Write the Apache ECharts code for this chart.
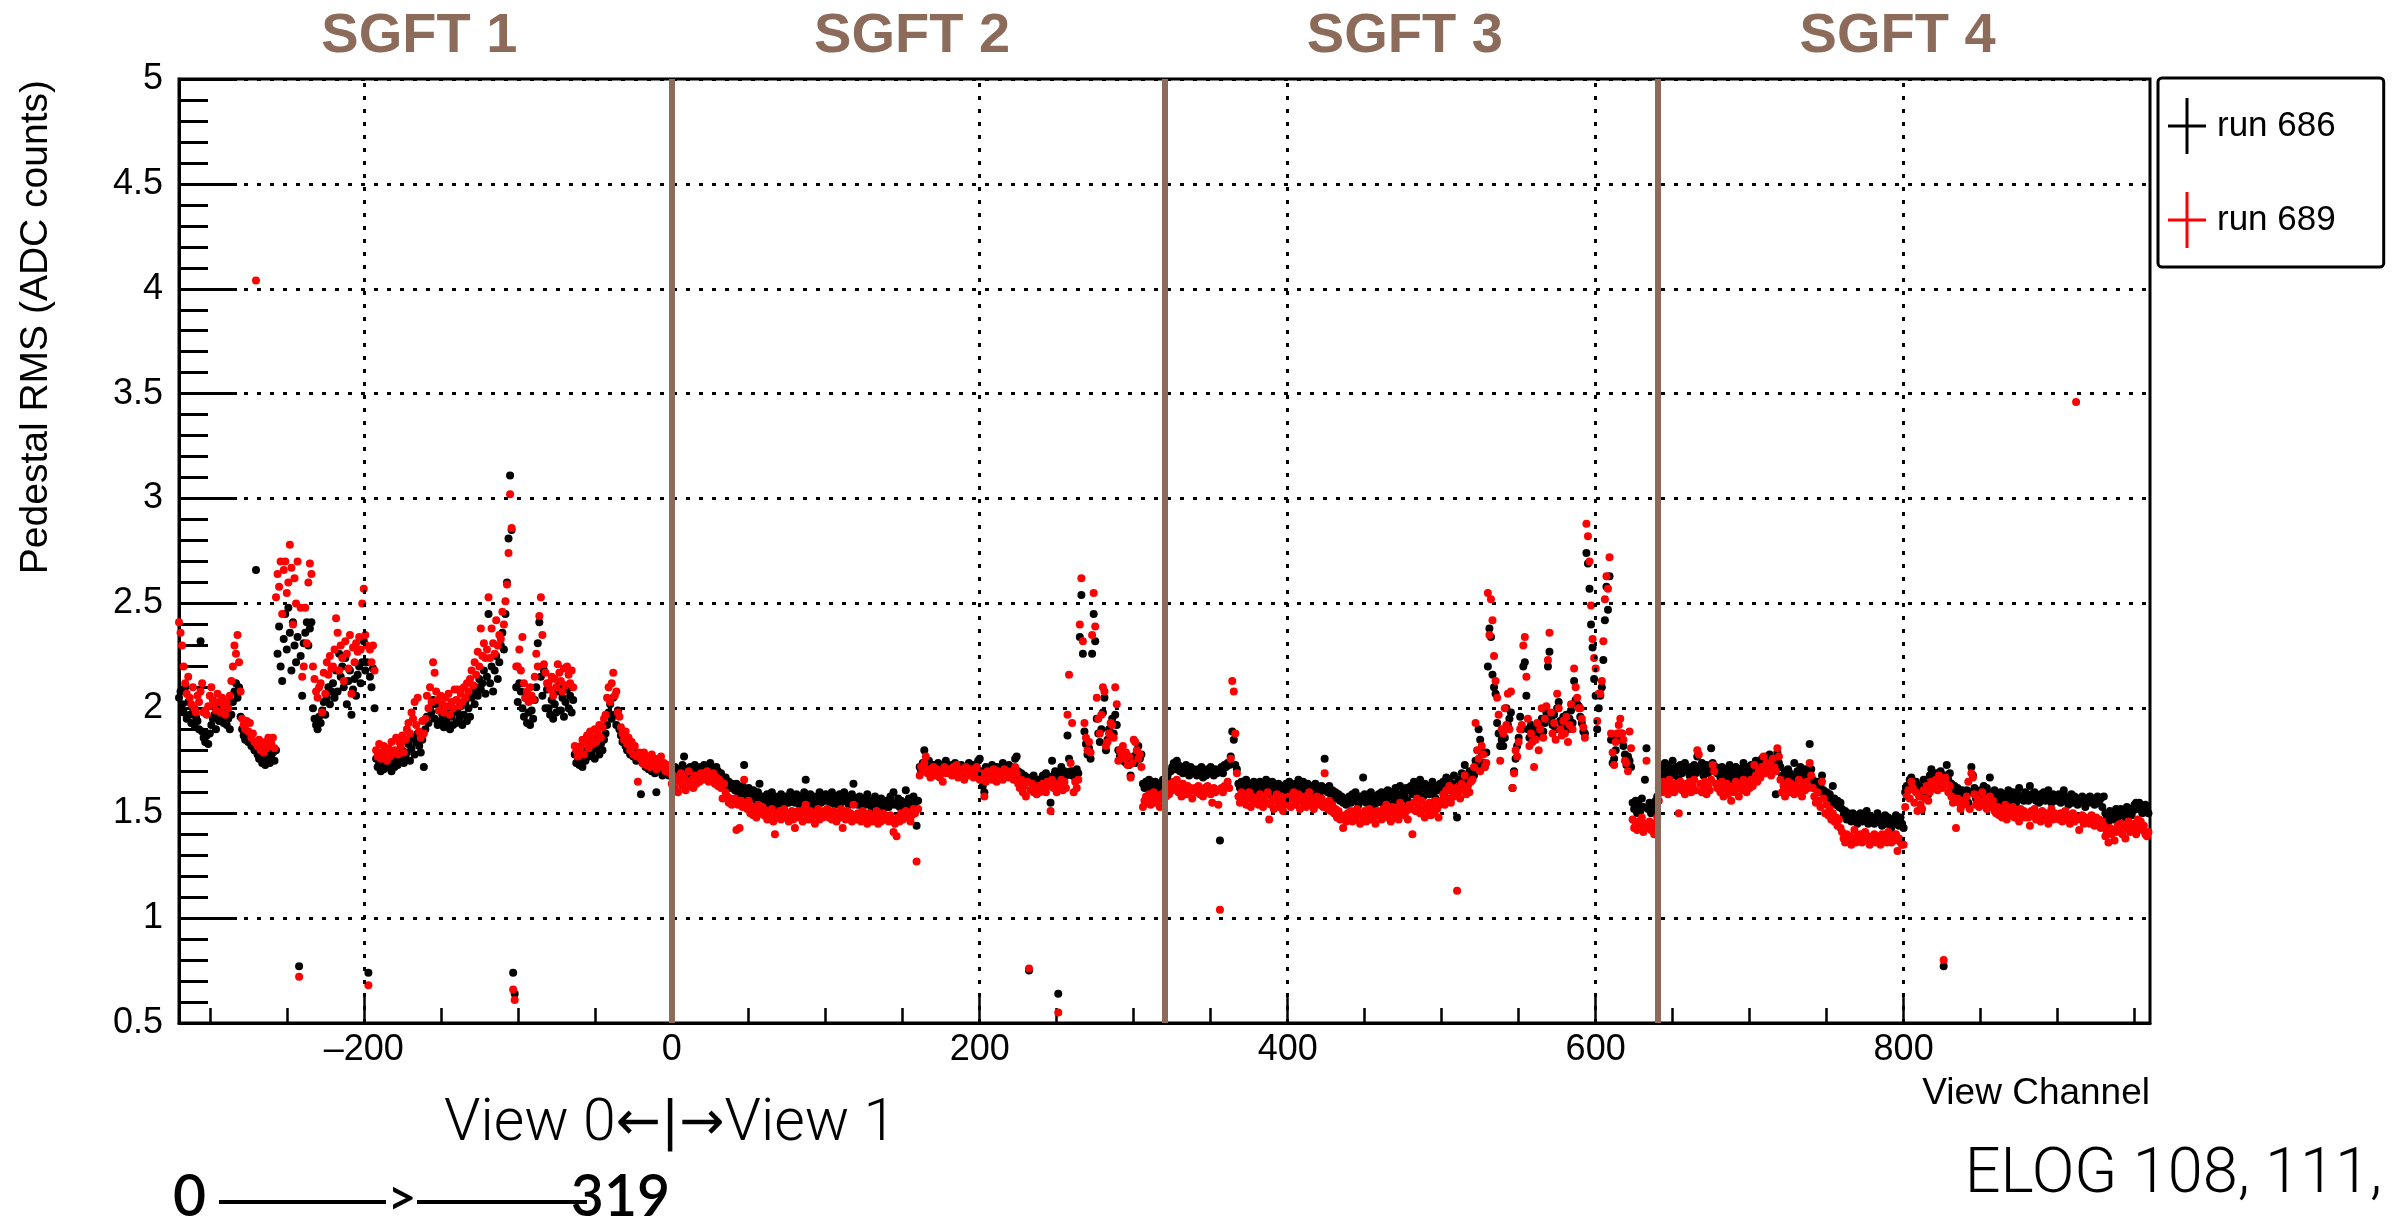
<!DOCTYPE html>
<html>
<head>
<meta charset="utf-8">
<script src="https://cdn.jsdelivr.net/npm/echarts@6/dist/echarts.min.js"></script>
<style>
html,body{margin:0;padding:0;background:#fff;}
#chart{width:2399px;height:1219px;}
</style>
</head>
<body>
<div id="chart"></div>
<script>
// ---------------- DATA ----------------
// First view channel of each SGFT block (each block holds 320 consecutive channels)
const segmentStarts = [-320, 0, 320, 640];

// run 686 (black), pedestal RMS per channel
const run686Sgft1 = [
2.05,2.08,2.02,1.98,2.10,1.95,2.03,1.97,1.93,2.00,1.92,1.96,1.94,1.90,2.32,1.89,1.86,1.84,1.87,1.83,
1.88,1.92,1.95,1.97,1.90,1.98,1.94,2.01,1.96,1.93,1.99,1.92,1.95,1.90,1.97,2.03,2.08,2.12,2.05,2.10,
1.96,1.90,1.87,1.85,1.88,1.84,1.86,1.82,1.83,1.80,2.66,1.78,1.76,1.79,1.74,1.77,1.73,1.75,1.78,1.74,
1.76,1.79,1.75,1.80,2.26,2.39,2.20,2.13,2.33,2.45,2.28,2.48,2.36,2.18,2.41,2.30,2.22,2.34,0.77,2.25,
2.06,2.31,2.36,2.41,2.30,2.38,2.41,2.00,1.95,1.92,1.90,1.96,1.93,1.99,2.03,1.97,2.05,2.10,2.02,2.08,
2.12,2.05,2.18,2.08,2.26,2.15,2.20,2.10,2.24,2.02,2.13,2.18,1.97,2.09,2.14,2.06,2.16,2.20,2.12,2.22,
2.32,2.18,2.22,0.74,2.15,2.10,2.19,2.00,1.76,1.72,1.74,1.70,1.75,1.71,1.73,1.77,1.72,1.74,1.70,1.76,
1.72,1.75,1.73,1.78,1.76,1.80,1.74,1.77,1.79,1.83,1.75,1.81,1.86,1.78,1.84,1.88,1.82,1.79,1.85,1.72,
1.90,1.96,1.93,2.00,1.98,2.04,1.95,2.02,1.92,1.99,1.94,1.97,1.91,1.95,1.93,1.98,1.90,1.96,1.92,1.99,
1.93,1.98,1.95,2.01,1.92,1.97,2.03,1.94,2.00,1.96,2.05,2.08,2.02,2.10,2.06,2.14,2.09,2.12,2.18,2.07,
2.15,2.45,2.12,2.20,2.08,2.18,2.25,2.14,2.22,2.30,2.36,2.28,2.45,2.60,2.81,3.11,2.85,0.74,0.64,2.10,
2.03,2.12,2.08,2.00,1.96,2.05,1.93,1.98,1.92,1.99,1.95,2.04,2.10,2.31,2.41,2.15,2.06,2.18,2.00,2.09,
2.00,1.97,2.04,1.95,2.02,1.98,2.08,2.11,1.99,2.05,1.96,2.03,2.09,2.00,2.06,1.98,2.04,1.78,1.74,1.75,
1.73,1.76,1.72,1.78,1.75,1.80,1.77,1.82,1.79,1.84,1.76,1.81,1.86,1.78,1.83,1.80,1.85,1.88,1.92,1.98,
2.02,1.95,2.05,1.97,1.92,1.99,1.90,1.87,1.84,1.86,1.82,1.80,1.83,1.78,1.81,1.77,1.79,1.75,1.78,1.76,
1.59,1.74,1.77,1.72,1.75,1.71,1.74,1.70,1.73,1.69,1.60,1.72,1.70,1.73,1.68,1.71,1.69,1.72,1.68,1.70
];
const run686Sgft2 = [
1.70,1.67,1.72,1.69,1.71,1.66,1.70,1.73,1.77,1.68,1.71,1.69,1.72,1.67,1.70,1.73,1.68,1.71,1.69,1.72,
1.71,1.73,1.69,1.72,1.70,1.74,1.68,1.71,1.69,1.72,1.70,1.67,1.69,1.66,1.65,1.67,1.63,1.65,1.62,1.64,
1.63,1.61,1.64,1.60,1.62,1.59,1.63,1.73,1.61,1.58,1.62,1.60,1.57,1.61,1.59,1.56,1.60,1.64,1.58,1.57,
1.58,1.55,1.59,1.57,1.54,1.60,1.56,1.58,1.53,1.57,1.55,1.59,1.56,1.54,1.58,1.57,1.55,1.60,1.56,1.58,
1.55,1.59,1.57,1.54,1.58,1.56,1.60,1.66,1.57,1.55,1.59,1.54,1.58,1.56,1.53,1.57,1.60,1.55,1.58,1.56,
1.59,1.56,1.58,1.55,1.60,1.57,1.54,1.58,1.56,1.59,1.55,1.57,1.60,1.56,1.58,1.54,1.57,1.59,1.64,1.56,
1.57,1.54,1.58,1.56,1.53,1.57,1.55,1.59,1.54,1.56,1.52,1.55,1.58,1.53,1.56,1.54,1.57,1.52,1.55,1.53,
1.56,1.53,1.58,1.55,1.60,1.54,1.47,1.57,1.53,1.56,1.52,1.55,1.61,1.54,1.57,1.53,1.56,1.58,1.55,1.44,
1.56,1.72,1.70,1.74,1.80,1.73,1.71,1.75,1.72,1.70,1.73,1.69,1.72,1.74,1.71,1.73,1.70,1.72,1.75,1.71,
1.72,1.70,1.73,1.71,1.74,1.69,1.72,1.70,1.73,1.71,1.68,1.72,1.70,1.74,1.69,1.71,1.73,1.70,1.72,1.75,
1.76,1.70,1.63,1.60,1.72,1.69,1.71,1.68,1.73,1.70,1.67,1.72,1.69,1.71,1.68,1.74,1.70,1.72,1.69,1.73,
1.72,1.68,1.71,1.76,1.77,1.70,1.67,1.69,1.66,1.68,1.65,1.67,0.75,1.66,1.64,1.68,1.65,1.63,1.66,1.64,
1.65,1.68,1.66,1.69,1.64,1.67,1.55,1.75,1.68,1.70,1.67,0.64,1.69,1.72,1.66,1.70,1.68,1.87,1.76,1.70,
1.68,1.70,1.67,1.71,1.69,2.34,2.54,2.26,1.89,1.83,1.78,1.81,1.76,2.26,2.45,2.32,1.95,1.88,1.84,1.90,
1.98,2.05,1.80,1.85,1.90,1.87,1.95,1.88,1.97,1.92,1.80,1.77,1.79,1.75,1.78,1.74,1.76,1.73,1.68,1.75,
1.77,1.74,1.79,1.82,1.76,1.78,1.64,1.62,1.65,1.63,1.66,1.61,1.64,1.62,1.65,1.63,1.60,1.64,1.62,1.66
];
const run686Sgft3 = [
1.66,1.63,1.68,1.65,1.70,1.72,1.74,1.71,1.75,1.73,1.70,1.72,1.69,1.71,1.73,1.70,1.68,1.72,1.69,1.71,
1.70,1.68,1.71,1.69,1.72,1.67,1.70,1.68,1.71,1.69,1.72,1.70,1.68,1.71,1.69,1.70,1.37,1.72,1.69,1.73,
1.72,1.74,1.73,1.77,1.89,1.85,1.73,1.71,1.64,1.62,1.65,1.61,1.63,1.66,1.62,1.64,1.60,1.63,1.65,1.61,
1.63,1.60,1.65,1.62,1.64,1.61,1.66,1.63,1.59,1.62,1.65,1.61,1.63,1.60,1.64,1.62,1.59,1.63,1.61,1.64,
1.62,1.65,1.61,1.63,1.60,1.64,1.62,1.66,1.61,1.63,1.65,1.60,1.62,1.64,1.61,1.63,1.59,1.62,1.64,1.61,
1.62,1.60,1.63,1.61,1.76,1.62,1.60,1.63,1.59,1.61,1.58,1.60,1.57,1.59,1.56,1.58,1.55,1.57,1.54,1.56,
1.58,1.55,1.59,1.56,1.60,1.57,1.54,1.58,1.56,1.67,1.59,1.55,1.58,1.56,1.60,1.57,1.54,1.58,1.55,1.59,
1.57,1.60,1.55,1.59,1.56,1.61,1.58,1.54,1.60,1.57,1.62,1.56,1.59,1.63,1.57,1.60,1.58,1.62,1.56,1.61,
1.63,1.59,1.65,1.61,1.64,1.60,1.66,1.62,1.58,1.64,1.61,1.63,1.59,1.62,1.65,1.60,1.57,1.63,1.61,1.64,
1.62,1.65,1.60,1.67,1.63,1.66,1.61,1.64,1.68,1.62,1.48,1.66,1.63,1.69,1.65,1.73,1.67,1.64,1.70,1.68,
1.70,1.68,1.75,1.72,1.90,1.85,1.79,1.74,1.72,1.79,2.20,2.38,2.34,2.16,2.10,2.07,1.93,1.88,1.82,1.85,
1.82,1.86,2.00,1.92,1.95,1.98,1.62,1.70,1.76,1.82,1.86,1.96,1.90,2.20,2.22,2.06,1.90,1.86,1.92,1.89,
1.86,1.90,1.88,1.92,1.87,1.95,1.89,1.93,1.98,2.20,2.27,1.95,1.92,1.97,1.90,2.00,2.03,1.94,1.91,1.96,
1.92,1.97,1.90,1.95,1.99,1.93,2.13,2.04,2.02,2.01,1.96,1.93,1.89,1.88,2.74,2.69,2.57,2.40,2.29,2.14,
2.06,1.90,2.00,2.06,2.10,2.23,2.42,2.58,2.47,2.63,1.85,1.74,1.76,1.80,1.86,1.88,1.85,1.88,1.82,1.78,
1.73,1.77,1.75,1.72,1.55,1.52,1.56,1.50,1.54,1.51,1.57,1.53,1.66,1.81,1.52,1.55,1.50,1.54,1.51,1.56
];
const run686Sgft4 = [
1.58,1.62,1.70,1.72,1.68,1.74,1.70,1.73,1.69,1.71,1.75,1.68,1.72,1.70,1.66,1.73,1.69,1.71,1.74,1.70,
1.71,1.68,1.72,1.70,1.73,1.69,1.77,1.72,1.70,1.74,1.68,1.71,1.73,1.69,1.72,1.81,1.74,1.70,1.72,1.69,
1.70,1.67,1.72,1.69,1.66,1.71,1.68,1.73,1.65,1.70,1.67,1.72,1.69,1.66,1.71,1.68,1.74,1.70,1.67,1.72,
1.70,1.73,1.68,1.72,1.75,1.70,1.74,1.72,1.76,1.71,1.73,1.77,1.74,1.78,1.72,1.75,1.76,1.59,1.79,1.74,
1.72,1.68,1.66,1.70,1.67,1.71,1.69,1.65,1.68,1.74,1.66,1.70,1.67,1.72,1.69,1.65,1.71,1.68,1.70,1.83,
1.71,1.66,1.64,1.62,1.65,1.60,1.63,1.68,1.61,1.58,1.60,1.57,1.59,1.55,1.63,1.57,1.54,1.56,1.53,1.55,
1.52,1.49,1.51,1.47,1.50,1.48,1.46,1.50,1.47,1.49,1.45,1.48,1.50,1.46,1.49,1.47,1.51,1.45,1.48,1.46,
1.48,1.45,1.47,1.50,1.46,1.48,1.44,1.47,1.49,1.45,1.48,1.46,1.43,1.47,1.45,1.49,1.46,1.44,1.48,1.45,
1.43,1.60,1.63,1.61,1.66,1.67,1.64,1.62,1.65,1.60,1.63,1.58,1.62,1.66,1.61,1.64,1.59,1.68,1.71,1.65,
1.66,1.69,1.64,1.67,1.70,1.65,0.77,1.68,1.73,1.66,1.69,1.64,1.61,1.63,1.58,1.62,1.60,1.57,1.61,1.59,
1.58,1.61,1.55,1.60,1.72,1.68,1.62,1.57,1.60,1.56,1.61,1.58,1.63,1.59,1.62,1.57,1.67,1.60,1.58,1.61,
1.57,1.59,1.56,1.60,1.58,1.55,1.59,1.57,1.61,1.56,1.58,1.60,1.57,1.55,1.59,1.62,1.57,1.58,1.56,1.60,
1.58,1.56,1.63,1.59,1.57,1.60,1.56,1.58,1.55,1.59,1.57,1.60,1.56,1.58,1.61,1.57,1.55,1.59,1.57,1.56,
1.57,1.59,1.55,1.58,1.61,1.56,1.58,1.54,1.57,1.59,1.55,1.58,1.56,1.54,1.57,1.55,1.58,1.56,1.53,1.57,
1.56,1.58,1.55,1.57,1.54,1.56,1.58,1.55,1.57,1.53,1.58,1.50,1.48,1.46,1.51,1.49,1.47,1.50,1.52,1.48,
1.50,1.52,1.49,1.51,1.48,1.53,1.50,1.52,1.49,1.51,1.54,1.55,1.52,1.55,1.53,1.50,1.52,1.54,1.51,1.50
];

// run 689 (red), pedestal RMS per channel
const run689Sgft1 = [
2.41,2.36,2.30,2.20,2.12,2.07,2.15,2.05,2.02,2.10,2.00,1.98,2.06,2.03,2.08,2.12,1.98,1.99,1.97,2.01,
2.06,2.10,2.04,2.02,1.99,2.07,2.03,1.98,2.05,2.01,1.97,2.03,2.00,2.06,2.13,2.20,2.30,2.26,2.35,2.22,
2.08,1.95,1.92,1.90,1.94,1.89,1.93,1.86,1.88,1.84,4.04,1.82,1.85,1.80,1.83,1.79,1.84,1.81,1.86,1.82,
1.83,1.86,1.81,2.53,2.64,2.58,2.70,2.45,2.66,2.70,2.55,2.60,2.78,2.67,2.40,2.62,2.50,2.70,0.72,2.48,
2.15,2.20,2.48,2.31,2.60,2.69,2.64,2.20,2.14,2.08,2.05,2.10,2.12,1.98,2.17,2.07,2.22,2.16,2.25,2.19,
2.20,2.28,2.43,2.36,2.18,2.30,2.24,2.13,2.32,2.26,2.19,2.35,2.07,2.29,2.22,2.31,2.27,2.34,2.28,2.50,
2.57,2.35,2.30,0.68,2.28,2.22,2.30,2.18,1.80,1.77,1.83,1.76,1.79,1.82,1.78,1.75,1.81,1.77,1.84,1.79,
1.80,1.86,1.78,1.84,1.82,1.87,1.79,1.85,1.90,1.93,1.88,1.98,1.95,2.03,1.92,2.05,1.89,1.86,1.94,1.88,
1.95,2.06,2.00,2.10,2.03,2.22,2.17,2.08,2.04,1.99,2.06,2.02,1.98,2.05,2.01,2.07,1.97,2.03,2.00,2.09,
2.04,2.09,2.01,2.07,2.03,2.10,2.05,2.12,2.08,2.14,2.18,2.11,2.22,2.16,2.27,2.20,2.38,2.25,2.31,2.24,
2.28,2.53,2.24,2.38,2.31,2.26,2.42,2.30,2.35,2.33,2.46,2.40,2.51,2.59,2.74,3.02,2.86,0.66,0.61,2.20,
2.20,2.28,2.18,2.34,2.12,2.05,2.08,2.03,2.10,2.06,2.04,2.15,2.26,2.20,2.44,2.53,2.35,2.21,2.17,2.12,
2.12,2.09,2.15,2.06,2.14,2.10,2.21,2.17,2.13,2.08,2.19,2.11,2.20,2.16,2.12,2.18,2.10,1.82,1.80,1.77,
1.79,1.82,1.85,1.78,1.84,1.87,1.81,1.89,1.86,1.83,1.90,1.84,1.88,1.92,1.86,1.91,1.95,1.97,2.05,2.10,
2.03,2.12,2.17,2.06,2.08,1.98,1.96,1.91,1.88,1.85,1.89,1.83,1.86,1.80,1.84,1.78,1.82,1.77,1.65,1.79,
1.76,1.74,1.79,1.73,1.77,1.75,1.72,1.78,1.74,1.76,1.71,1.75,1.73,1.77,1.72,1.74,1.70,1.73,1.71,1.69
];
const run689Sgft2 = [
1.64,1.68,1.62,1.66,1.60,1.65,1.69,1.63,1.67,1.61,1.65,1.70,1.63,1.66,1.62,1.68,1.64,1.67,1.65,1.69,
1.66,1.69,1.67,1.70,1.65,1.68,1.66,1.69,1.64,1.67,1.63,1.66,1.62,1.57,1.64,1.60,1.58,1.55,1.57,1.54,
1.55,1.57,1.42,1.54,1.43,1.56,1.53,1.66,1.55,1.52,1.56,1.50,1.53,1.49,1.52,1.48,1.54,1.51,1.50,1.53,
1.49,1.51,1.47,1.50,1.48,1.52,1.46,1.40,1.50,1.48,1.51,1.47,1.49,1.52,1.48,1.50,1.46,1.49,1.51,1.47,
1.43,1.49,1.51,1.48,1.50,1.46,1.52,1.54,1.49,1.47,1.51,1.48,1.50,1.45,1.49,1.52,1.47,1.50,1.48,1.51,
1.49,1.52,1.48,1.50,1.47,1.51,1.49,1.46,1.50,1.48,1.52,1.43,1.49,1.47,1.51,1.48,1.50,1.46,1.54,1.49,
1.47,1.50,1.48,1.46,1.51,1.49,1.47,1.45,1.50,1.48,1.46,1.49,1.47,1.51,1.45,1.48,1.46,1.50,1.47,1.49,
1.48,1.46,1.49,1.47,1.41,1.45,1.39,1.48,1.46,1.50,1.47,1.49,1.51,1.48,1.50,1.46,1.49,1.52,1.50,1.27,
1.52,1.68,1.72,1.70,1.74,1.77,1.69,1.71,1.67,1.70,1.72,1.68,1.71,1.69,1.67,1.70,1.65,1.72,1.69,1.71,
1.69,1.71,1.68,1.72,1.70,1.73,1.67,1.70,1.69,1.71,1.66,1.72,1.70,1.68,1.71,1.69,1.67,1.70,1.72,1.68,
1.66,1.69,1.68,1.58,1.65,1.70,1.67,1.69,1.66,1.71,1.68,1.65,1.70,1.67,1.69,1.66,1.71,1.68,1.70,1.67,
1.68,1.70,1.66,1.72,1.69,1.64,1.62,1.66,1.60,1.63,1.58,1.65,0.76,1.61,1.64,1.60,1.62,1.59,1.63,1.60,
1.61,1.64,1.62,1.60,1.65,1.63,1.51,1.66,1.62,1.64,1.60,0.55,1.63,1.66,1.61,1.65,1.62,1.97,2.16,1.74,
1.93,1.60,1.65,1.62,1.66,2.40,2.62,2.32,1.93,1.86,1.80,1.84,1.79,2.35,2.55,2.39,2.05,1.95,1.88,1.97,
2.10,2.08,1.82,1.84,1.88,1.93,1.92,1.86,2.10,2.02,1.75,1.80,1.78,1.82,1.76,1.79,1.73,1.77,1.67,1.74,
1.85,1.84,1.80,1.76,1.78,1.72,1.53,1.56,1.58,1.55,1.59,1.54,1.57,1.60,1.55,1.58,1.56,1.53,1.59,1.57
];
const run689Sgft3 = [
1.60,1.58,1.62,1.59,1.64,1.61,1.65,1.63,1.66,1.60,1.62,1.58,1.64,1.61,1.59,1.63,1.60,1.62,1.57,1.61,
1.62,1.60,1.63,1.59,1.61,1.58,1.62,1.60,1.63,1.61,1.59,1.55,1.62,1.60,1.61,1.54,1.04,1.62,1.60,1.63,
1.63,1.65,1.62,1.76,2.13,2.08,1.88,1.69,1.58,1.55,1.60,1.56,1.59,1.54,1.57,1.60,1.53,1.58,1.55,1.56,
1.57,1.54,1.59,1.56,1.53,1.58,1.55,1.60,1.47,1.54,1.57,1.52,1.56,1.59,1.53,1.55,1.58,1.51,1.54,1.57,
1.55,1.58,1.53,1.57,1.60,1.54,1.56,1.59,1.52,1.57,1.55,1.58,1.53,1.56,1.60,1.54,1.57,1.52,1.55,1.58,
1.56,1.54,1.57,1.53,1.69,1.55,1.52,1.56,1.51,1.54,1.50,1.52,1.48,1.51,1.47,1.49,1.43,1.48,1.46,1.50,
1.48,1.51,1.46,1.50,1.47,1.52,1.49,1.45,1.50,1.48,1.51,1.46,1.49,1.52,1.47,1.50,1.48,1.45,1.51,1.49,
1.50,1.47,1.52,1.49,1.54,1.48,1.51,1.46,1.53,1.50,1.48,1.52,1.47,1.55,1.50,1.53,1.49,1.51,1.47,1.54,
1.52,1.40,1.55,1.51,1.57,1.53,1.50,1.56,1.52,1.48,1.54,1.51,1.55,1.49,1.53,1.50,1.56,1.52,1.48,1.54,
1.56,1.59,1.54,1.61,1.57,1.63,1.55,1.60,1.58,1.62,1.13,1.60,1.57,1.64,1.61,1.68,1.59,1.63,1.60,1.65,
1.66,1.72,1.93,1.80,1.76,1.70,1.82,1.78,1.72,1.74,2.55,2.35,2.52,2.42,2.25,2.13,2.05,1.97,1.75,1.90,
1.88,2.00,1.92,2.07,1.90,2.08,1.62,1.69,1.80,1.77,1.84,1.90,1.92,2.30,2.34,2.15,1.95,1.82,1.88,1.84,
1.72,1.85,1.93,1.80,1.90,2.00,1.86,1.95,2.01,2.23,2.36,1.98,1.88,1.93,1.85,2.07,2.00,1.90,1.87,1.94,
1.88,1.96,1.84,1.92,2.02,1.90,2.19,2.10,2.05,2.00,2.00,1.95,1.91,1.86,2.88,2.82,2.70,2.49,2.33,2.24,
2.19,1.94,2.07,2.07,2.13,2.32,2.52,2.63,2.57,2.72,1.88,1.79,1.73,1.84,1.88,1.92,1.95,1.88,1.85,1.75,
1.74,1.70,1.89,1.81,1.47,1.43,1.45,1.42,1.46,1.44,1.48,1.41,1.45,1.75,1.43,1.46,1.42,1.45,1.40,1.44
];
const run689Sgft4 = [
1.48,1.56,1.63,1.60,1.65,1.62,1.64,1.59,1.66,1.61,1.63,1.60,1.64,1.62,1.50,1.65,1.61,1.63,1.59,1.64,
1.62,1.65,1.60,1.63,1.66,1.61,1.80,1.78,1.64,1.60,1.62,1.65,1.59,1.63,1.61,1.66,1.73,1.70,1.64,1.62,
1.63,1.60,1.65,1.58,1.62,1.64,1.59,1.61,1.56,1.63,1.60,1.65,1.62,1.58,1.64,1.61,1.66,1.63,1.60,1.65,
1.62,1.66,1.63,1.73,1.68,1.65,1.70,1.67,1.72,1.77,1.69,1.74,1.71,1.73,1.68,1.76,1.72,1.70,1.81,1.77,
1.66,1.60,1.63,1.58,1.62,1.65,1.60,1.64,1.61,1.59,1.63,1.60,1.66,1.62,1.58,1.64,1.61,1.65,1.62,1.74,
1.68,1.62,1.58,1.55,1.60,1.56,1.53,1.65,1.57,1.50,1.54,1.49,1.52,1.47,1.50,1.46,1.48,1.44,1.47,1.43,
1.41,1.38,1.36,1.40,1.37,1.39,1.35,1.38,1.42,1.36,1.39,1.37,1.40,1.36,1.38,1.41,1.37,1.39,1.35,1.38,
1.37,1.40,1.36,1.39,1.38,1.35,1.40,1.37,1.39,1.36,1.41,1.38,1.36,1.39,1.37,1.40,1.32,1.38,1.36,1.35,
1.35,1.53,1.58,1.61,1.57,1.65,1.62,1.55,1.60,1.51,1.58,1.54,1.52,1.61,1.57,1.63,1.56,1.60,1.65,1.62,
1.63,1.66,1.61,1.68,1.65,1.62,0.80,1.67,1.64,1.60,1.63,1.58,1.55,1.56,1.43,1.57,1.55,1.52,1.56,1.54,
1.55,1.58,1.65,1.52,1.69,1.67,1.59,1.54,1.57,1.53,1.56,1.60,1.54,1.57,1.52,1.55,1.58,1.53,1.56,1.51,
1.50,1.53,1.49,1.52,1.48,1.51,1.54,1.47,1.50,1.52,1.49,1.53,1.48,1.51,1.50,1.46,1.52,1.49,1.51,1.48,
1.50,1.48,1.44,1.51,1.49,1.52,1.47,1.50,1.48,1.46,1.51,1.49,1.47,1.50,1.45,1.49,1.52,1.47,1.50,1.48,
1.49,1.47,1.50,1.46,1.48,1.51,1.47,1.49,1.45,1.48,1.50,1.46,3.46,1.48,1.42,1.47,1.49,1.45,1.48,1.46,
1.47,1.45,1.49,1.46,1.44,1.48,1.45,1.47,1.43,1.46,1.44,1.39,1.41,1.36,1.43,1.40,1.42,1.37,1.41,1.44,
1.42,1.45,1.40,1.44,1.38,1.43,1.46,1.41,1.44,1.42,1.45,1.40,1.47,1.43,1.46,1.42,1.44,1.40,1.39,1.41
];

const seriesNames = ['run 686', 'run 689'];
const xLabelValues = [-200, 0, 200, 400, 600, 800];
const xMinorTickValues = [-300, -250, -150, -100, -50, 50, 100, 150, 250, 300, 350, 450, 500, 550, 650, 700, 750, 850, 900, 950];
const xGridValues = [-200, 0, 200, 400, 600, 800];
const boundaryChannels = [0, 320, 640];
const sgftNames = ['SGFT 1', 'SGFT 2', 'SGFT 3', 'SGFT 4'];
const sgftCenters = [-160, 160, 480, 800];

// ---------------- CHART ----------------
function toPoints(segments) {
  const pts = [];
  segments.forEach(function (arr, s) {
    arr.forEach(function (v, i) { pts.push([segmentStarts[s] + i, v]); });
  });
  return pts;
}

const BROWN = '#8d6b5a';
const FONT = '"Liberation Sans", Arial, Helvetica, sans-serif';
const LIGHT = 'Roboto, "Liberation Sans", sans-serif';

const chart = echarts.init(document.getElementById('chart'), null, { renderer: 'canvas', width: 2399, height: 1219 });

const option = {
  animation: false,
  backgroundColor: '#ffffff',
  textStyle: { fontFamily: FONT },
  grid: {
    left: 179, top: 79, right: 249, bottom: 196,
    show: true, borderColor: '#000', borderWidth: 3, backgroundColor: 'transparent',
    containLabel: false, outerBoundsMode: 'none'
  },
  xAxis: [
    {
      type: 'value', min: -320, max: 960, position: 'bottom',
      axisLine: { show: true, onZero: false, lineStyle: { color: '#000', width: 3 } },
      axisTick: { show: true, inside: true, length: 15, customValues: xMinorTickValues, lineStyle: { color: '#000', width: 2.5 } },
      axisLabel: {
        show: true, customValues: xLabelValues, fontSize: 36, color: '#000', margin: 9, fontFamily: FONT,
        formatter: function (v) { return String(v).replace('-', '\u2013'); }
      },
      splitLine: { show: false }
    },
    {
      type: 'value', min: -320, max: 960, position: 'bottom',
      axisLine: { show: false },
      axisTick: { show: true, inside: true, length: 30, customValues: xLabelValues, lineStyle: { color: '#000', width: 2.5 } },
      axisLabel: { show: false },
      splitLine: { show: false }
    }
  ],
  yAxis: {
    type: 'value', min: 0.5, max: 5, interval: 0.5,
    axisLine: { show: true, onZero: false, lineStyle: { color: '#000', width: 3 } },
    axisTick: { show: true, inside: true, length: 58, lineStyle: { color: '#000', width: 3 } },
    minorTick: { show: true, splitNumber: 5, length: 29, lineStyle: { color: '#000', width: 3 } },
    axisLabel: { fontSize: 36, color: '#000', margin: 16, fontFamily: FONT },
    splitLine: { show: true, lineStyle: { color: '#000', width: 3, type: [4, 9] } },
    minorSplitLine: { show: false }
  },
  legend: {
    data: seriesNames, orient: 'vertical', left: 2158, top: 78,
    padding: [20, 48, 19, 10], itemGap: 38, itemWidth: 38, itemHeight: 56,
    icon: 'path://M0,26.5h38v3h-38z M17.5,0h3v56h-3z',
    borderColor: '#000', borderWidth: 3, borderRadius: 4, backgroundColor: '#fff',
    selectedMode: false,
    textStyle: { fontSize: 35, color: '#000', fontFamily: FONT, padding: [0, 0, 0, 6] }
  },
  series: [
    {
      name: 'xgrid', type: 'line', data: [], z: 1, silent: true,
      markLine: {
        silent: true, symbol: ['none', 'none'], label: { show: false }, animation: false,
        lineStyle: { color: '#000', width: 3, type: [4, 9] },
        emphasis: { disabled: true },
        data: xGridValues.map(function (v) { return { xAxis: v }; })
      }
    },
    {
      name: seriesNames[0], type: 'scatter', symbol: 'circle', symbolSize: 8, z: 3, silent: true,
      itemStyle: { color: '#000000', opacity: 1 },
      data: toPoints([run686Sgft1, run686Sgft2, run686Sgft3, run686Sgft4])
    },
    {
      name: seriesNames[1], type: 'scatter', symbol: 'circle', symbolSize: 8, z: 4, silent: true,
      itemStyle: { color: '#ff0000', opacity: 1 },
      data: toPoints([run689Sgft1, run689Sgft2, run689Sgft3, run689Sgft4])
    },
    {
      name: 'boundaries', type: 'line', data: [], z: 6, silent: true,
      markLine: {
        silent: true, symbol: ['none', 'none'], label: { show: false }, animation: false,
        lineStyle: { color: BROWN, width: 6, type: 'solid', opacity: 1 },
        emphasis: { disabled: true },
        data: boundaryChannels.map(function (v) { return { xAxis: v }; })
      }
    }
  ]
};
chart.setOption(option);

function txt(x, y, text, font, align, valign, extra) {
  const el = {
    type: 'text', x: x, y: y, silent: true, z: 100,
    style: { text: text, font: font, fill: '#000', align: align, verticalAlign: valign, textAlign: align, textVerticalAlign: valign }
  };
  if (extra) { Object.assign(el, extra); }
  return el;
}

const px = function (v) { return chart.convertToPixel({ xAxisIndex: 0 }, v); };
const graphics = [];
sgftNames.forEach(function (name, i) {
  const t = txt(px(sgftCenters[i]) - 6, 37, name, 'bold 56px ' + FONT, 'center', 'middle');
  t.style.fill = BROWN;
  graphics.push(t);
});
graphics.push(txt(36, 80, 'Pedestal RMS (ADC counts)', '39px ' + FONT, 'right', 'middle', { rotation: Math.PI / 2 }));
graphics.push(txt(2150, 1094, 'View Channel', '37px ' + FONT, 'right', 'middle'));
// "View 0←|→View 1" (arrows from a font with full-size arrow glyphs)
const viewText = txt(444, 1125, '{a|View 0}{b|\u2190|\u2192}{a|View 1}', '300 59px ' + LIGHT, 'left', 'middle');
viewText.style.rich = {
  a: { font: '300 59px ' + LIGHT, fill: '#000', verticalAlign: 'middle' },
  b: { font: '54px "DejaVu Sans", sans-serif', fill: '#000', verticalAlign: 'middle' }
};
graphics.push(viewText);
graphics.push(txt(2382, 1176, 'ELOG 108, 111,', '300 63px ' + LIGHT, 'right', 'middle'));
// "0 ———>———319"
const GILL = '600 57px Lato, "Open Sans", sans-serif';
graphics.push(txt(173, 1198, '0', GILL, 'left', 'middle'));
graphics.push({ type: 'line', silent: true, shape: { x1: 219, y1: 1202, x2: 386, y2: 1202 }, style: { stroke: '#000', lineWidth: 4 } });
graphics.push(txt(402, 1199, '>', '600 50px Lato, "Open Sans", sans-serif', 'center', 'middle'));
graphics.push({ type: 'line', silent: true, shape: { x1: 417, y1: 1202, x2: 587, y2: 1202 }, style: { stroke: '#000', lineWidth: 4 } });
graphics.push(txt(670, 1198, '319', GILL, 'right', 'middle'));

chart.setOption({ graphic: graphics });
</script>
</body>
</html>
